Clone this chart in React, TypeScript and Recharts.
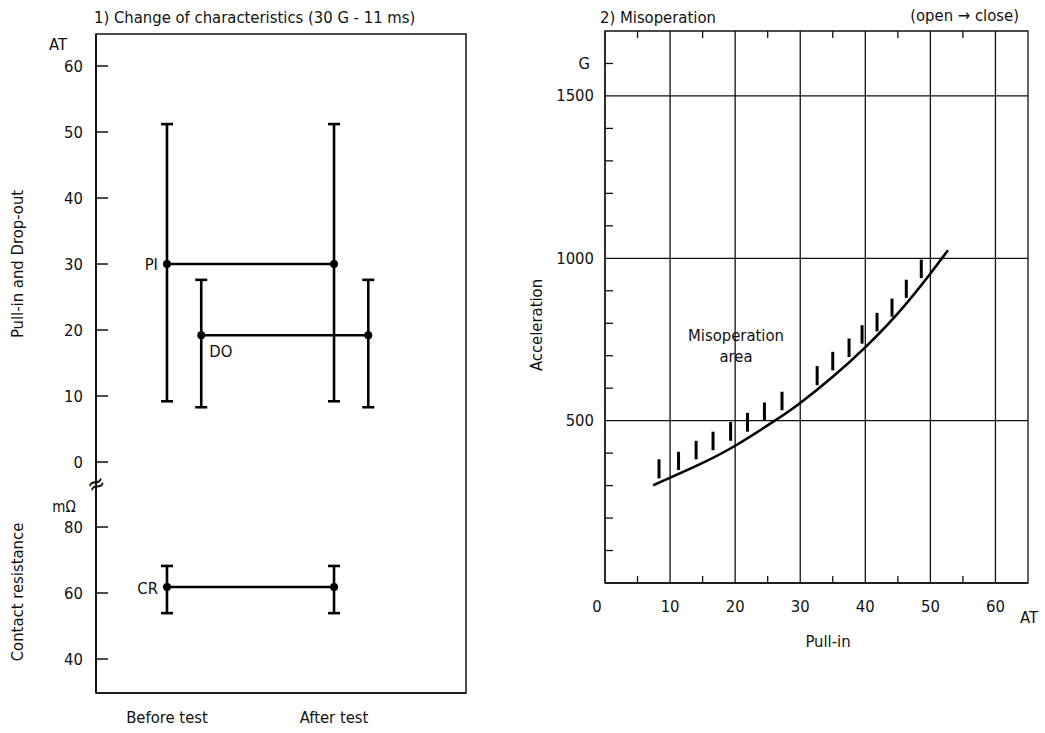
import React from 'react';
import {
  ComposedChart,
  Scatter,
  Line,
  XAxis,
  YAxis,
  ErrorBar,
  ReferenceLine,
  ReferenceArea,
} from 'recharts';

const FONT = '"Liberation Sans Narrow", "Arial Narrow", "DejaVu Sans Condensed", "Roboto Condensed", "Liberation Sans", sans-serif';
const FS = 16.5;

// ---------- Panel 1: change of characteristics ----------
const testStages = ['Before test', 'After test'];
const stagePos = [1, 3];
const piMean = [30, 30];
const piHigh = [51.2, 51.2];
const piLow = [9.2, 9.2];
const doMean = [19.2, 19.2];
const doHigh = [27.6, 27.6];
const doLow = [8.3, 8.3];
const crMean = [61.8, 61.8];
const crHigh = [68.2, 68.2];
const crLow = [53.9, 53.9];
const atTicks = [0, 10, 20, 30, 40, 50, 60];
const mohmTicks = [40, 60, 80];

// ---------- Panel 2: misoperation ----------
const pullInTicks = [0, 10, 20, 30, 40, 50, 60];
const pullInMinorTicks = [5, 15, 25, 35, 45, 55];
const accelMajorTicks = [500, 1000, 1500];
const accelMinorTicks = [100, 200, 300, 400, 600, 700, 800, 900, 1100, 1200, 1300, 1400, 1600];
const curvePullIn = [7.4, 14.6, 20.2, 25.8, 29.9, 35.0, 40.1, 45.2, 49.8, 52.7];
const curveAccel = [301, 366, 425, 496, 553, 635, 728, 835, 948, 1025];
const hatchPullIn = [8.3, 11.3, 14.0, 16.6, 19.3, 21.9, 24.5, 27.2, 32.6, 35.0, 37.5, 39.5, 41.8, 44.1, 46.3, 48.6];
const hatchLow = [322, 348, 381, 409, 438, 466, 499, 532, 609, 655, 696, 737, 775, 820, 878, 939];
const hatchHigh = [381, 404, 438, 466, 496, 524, 556, 589, 668, 712, 753, 794, 832, 876, 934, 996];

// ---------- axis domains / layout ----------
const AT_DOMAIN: [number, number] = [-35, 64.85];
const CR_DOMAIN: [number, number] = [29.7, 229.4];
const STAGE_DOMAIN: [number, number] = [0.15, 4.58];
const DO_SHIFT = 0.41;
const PULLIN_DOMAIN: [number, number] = [0, 65];
const ACCEL_DOMAIN: [number, number] = [0, 1700];
const RIGHT_PLOT_TOP = 31;

const crToAt = (m: number) =>
  AT_DOMAIN[0] + ((m - CR_DOMAIN[0]) * (AT_DOMAIN[1] - AT_DOMAIN[0])) / (CR_DOMAIN[1] - CR_DOMAIN[0]);

const leftTickLabels = new Map<number, string>();
atTicks.forEach((t) => leftTickLabels.set(t, String(t)));
mohmTicks.forEach((m) => leftTickLabels.set(crToAt(m), String(m)));
const leftTicks = Array.from(leftTickLabels.keys());

const makeTable = (pos: number[], mean: number[], low: number[], high: number[], tag: string, shift = 0) =>
  pos.map((p, i) => ({
    x: p + shift,
    y: mean[i],
    err: [mean[i] - low[i], high[i] - mean[i]],
    tag: i === 0 ? tag : '',
  }));

const piTable = makeTable(stagePos, piMean, piLow, piHigh, 'PI');
const doTable = makeTable(stagePos, doMean, doLow, doHigh, 'DO', DO_SHIFT);
const crTable = makeTable(stagePos, crMean, crLow, crHigh, 'CR');

const curveTable = curvePullIn.map((x, i) => ({ x, y: curveAccel[i] }));
const hatchTable = hatchPullIn.map((x, i) => {
  const mid = (hatchLow[i] + hatchHigh[i]) / 2;
  return { x, y: mid, err: [mid - hatchLow[i], hatchHigh[i] - mid] };
});

const dotShape = (dx: number, dy: number, anchor: 'start' | 'end') => (props: any) => {
  const { cx, cy, payload } = props;
  return (
    <g>
      <circle cx={cx} cy={cy} r={4} fill="#000" />
      {payload && payload.tag ? (
        <text x={cx + dx} y={cy + dy} textAnchor={anchor} dominantBaseline="central" fontSize={FS} fontFamily={FONT} fill="#111">
          {payload.tag}
        </text>
      ) : null}
    </g>
  );
};

const LeftYTick = (props: any) => {
  const { x, y, payload } = props;
  return (
    <g>
      <line x1={x} x2={x + 12} y1={y} y2={y} stroke="#111" strokeWidth={1.5} />
      <text x={x - 13} y={y} textAnchor="end" dominantBaseline="central" fontSize={FS} fontFamily={FONT} fill="#111">
        {leftTickLabels.get(payload.value)}
      </text>
    </g>
  );
};

const LeftXTick = (props: any) => {
  const { x, y, payload } = props;
  const idx = stagePos.indexOf(payload.value);
  return (
    <text x={x} y={y + 24} textAnchor="middle" dominantBaseline="central" fontSize={FS} fontFamily={FONT} fill="#111">
      {testStages[idx]}
    </text>
  );
};

const RightYTick = (props: any) => {
  const { x, y, payload } = props;
  const v = payload.value;
  const major = accelMajorTicks.includes(v);
  return (
    <g>
      {!major ? <line x1={x} x2={x + 8} y1={y} y2={y} stroke="#111" strokeWidth={1.3} /> : null}
      {major ? (
        <text x={x - 11} y={y} textAnchor="end" dominantBaseline="central" fontSize={FS} fontFamily={FONT} fill="#111">
          {v}
        </text>
      ) : null}
      {v === 1600 ? (
        <text x={x - 15} y={y} textAnchor="end" dominantBaseline="central" fontSize={FS} fontFamily={FONT} fill="#111">
          G
        </text>
      ) : null}
    </g>
  );
};

const RightXTick = (props: any) => {
  const { x, y, payload } = props;
  const v = payload.value;
  if (pullInMinorTicks.includes(v)) {
    return (
      <g>
        <line x1={x} x2={x} y1={y} y2={y - 7} stroke="#111" strokeWidth={1.3} />
        <line x1={x} x2={x} y1={RIGHT_PLOT_TOP} y2={RIGHT_PLOT_TOP + 7} stroke="#111" strokeWidth={1.3} />
      </g>
    );
  }
  return (
    <text x={x + (v === 0 ? -8 : 0)} y={y + 23} textAnchor="middle" dominantBaseline="central" fontSize={FS} fontFamily={FONT} fill="#111">
      {v}
    </text>
  );
};

const T = ({ x, y, children, size = FS, rotate = 0, anchor = 'middle' }: any) => {
  const tx = anchor === 'middle' ? '-50%' : anchor === 'end' ? '-100%' : '0';
  return (
    <div
      style={{
        position: 'absolute',
        left: x,
        top: y,
        transform: `translate(${tx}, -50%)${rotate ? ` rotate(${rotate}deg)` : ''}`,
        transformOrigin: '50% 50%',
        fontSize: size,
        lineHeight: 1,
        whiteSpace: 'nowrap',
        color: '#111',
        fontFamily: FONT,
      }}
    >
      {children}
    </div>
  );
};

export default function App() {
  return (
    <div style={{ position: 'absolute', left: 0, top: 0, width: 1045, height: 733, background: '#fff', fontFamily: FONT, overflow: 'hidden' }}>
      <div style={{ position: 'absolute', left: 0, top: 0 }}>
        <ComposedChart width={480} height={733} margin={{ top: 34, right: 14, bottom: 0, left: 0 }}>
          <XAxis
            xAxisId="x"
            type="number"
            dataKey="x"
            domain={STAGE_DOMAIN}
            allowDataOverflow
            ticks={stagePos}
            height={40}
            tickSize={0}
            tickMargin={0}
            tickLine={false}
            axisLine={{ stroke: '#111', strokeWidth: 1.5 }}
            tick={<LeftXTick />}
          />
          <YAxis
            yAxisId="at"
            type="number"
            domain={AT_DOMAIN}
            allowDataOverflow
            ticks={leftTicks}
            width={96}
            tickSize={0}
            tickMargin={0}
            tickLine={false}
            axisLine={{ stroke: '#111', strokeWidth: 1.8 }}
            tick={<LeftYTick />}
            interval={0}
          />
          <YAxis yAxisId="cr" type="number" domain={CR_DOMAIN} allowDataOverflow hide />
          <ReferenceArea
            xAxisId="x"
            yAxisId="at"
            x1={STAGE_DOMAIN[0]}
            x2={STAGE_DOMAIN[1]}
            y1={AT_DOMAIN[0]}
            y2={AT_DOMAIN[1]}
            fill="none"
            fillOpacity={0}
            stroke="#111"
            strokeWidth={1.5}
            ifOverflow="visible"
          />
          <Scatter xAxisId="x" yAxisId="at" data={piTable} dataKey="y" isAnimationActive={false} line={{ stroke: '#000', strokeWidth: 2.6 }} shape={dotShape(-9, 0, 'end')}>
            <ErrorBar dataKey="err" direction="y" width={6} strokeWidth={2.6} stroke="#000" />
          </Scatter>
          <Scatter xAxisId="x" yAxisId="at" data={doTable} dataKey="y" isAnimationActive={false} line={{ stroke: '#000', strokeWidth: 2.6 }} shape={dotShape(8, 16, 'start')}>
            <ErrorBar dataKey="err" direction="y" width={6} strokeWidth={2.6} stroke="#000" />
          </Scatter>
          <Scatter xAxisId="x" yAxisId="cr" data={crTable} dataKey="y" isAnimationActive={false} line={{ stroke: '#000', strokeWidth: 2.6 }} shape={dotShape(-9, 1, 'end')}>
            <ErrorBar dataKey="err" direction="y" width={6} strokeWidth={2.6} stroke="#000" />
          </Scatter>
        </ComposedChart>
      </div>

      <div style={{ position: 'absolute', left: 480, top: 0 }}>
        <ComposedChart width={565} height={733} margin={{ top: RIGHT_PLOT_TOP, right: 17, bottom: 110, left: 0 }}>
          <XAxis
            type="number"
            dataKey="x"
            domain={PULLIN_DOMAIN}
            allowDataOverflow
            ticks={[...pullInTicks, ...pullInMinorTicks].sort((a, b) => a - b)}
            interval={0}
            height={40}
            tickSize={0}
            tickMargin={0}
            tickLine={false}
            axisLine={{ stroke: '#111', strokeWidth: 1.3 }}
            tick={<RightXTick />}
          />
          <YAxis
            type="number"
            domain={ACCEL_DOMAIN}
            allowDataOverflow
            ticks={[...accelMajorTicks, ...accelMinorTicks].sort((a, b) => a - b)}
            interval={0}
            width={125}
            tickSize={0}
            tickMargin={0}
            tickLine={false}
            axisLine={{ stroke: '#111', strokeWidth: 1.3 }}
            tick={<RightYTick />}
          />
          <ReferenceArea
            x1={PULLIN_DOMAIN[0]}
            x2={PULLIN_DOMAIN[1]}
            y1={ACCEL_DOMAIN[0]}
            y2={ACCEL_DOMAIN[1]}
            fill="none"
            fillOpacity={0}
            stroke="#111"
            strokeWidth={1.3}
            ifOverflow="visible"
          />
          {pullInTicks.filter((t) => t > 0).map((t) => (
            <ReferenceLine key={'vx' + t} x={t} stroke="#111" strokeWidth={1.3} />
          ))}
          {accelMajorTicks.map((t) => (
            <ReferenceLine key={'hy' + t} y={t} stroke="#111" strokeWidth={1.3} />
          ))}
          <Line data={curveTable} dataKey="y" type="natural" stroke="#000" strokeWidth={2.6} dot={false} isAnimationActive={false} />
          <Scatter data={hatchTable} dataKey="y" isAnimationActive={false} shape={() => <g />}>
            <ErrorBar dataKey="err" direction="y" width={0} strokeWidth={3} stroke="#000" />
          </Scatter>
        </ComposedChart>
      </div>

      <T x={94} y={18} anchor="start">1) Change of characteristics (30 G - 11 ms)</T>
      <T x={58} y={45}>AT</T>
      <T x={64} y={507} size={15}>mΩ</T>
      <T x={96} y={484} size={24} rotate={-25}>≈</T>
      <T x={18} y={264} rotate={-90}>Pull-in and Drop-out</T>
      <T x={18} y={592} rotate={-90}>Contact resistance</T>

      <T x={600} y={18} anchor="start">2) Misoperation</T>
      <T x={1019} y={16} anchor="end">(open → close)</T>
      <T x={736} y={336}>Misoperation</T>
      <T x={736} y={357}>area</T>
      <T x={828} y={642}>Pull-in</T>
      <T x={1029} y={618}>AT</T>
      <T x={537} y={325} rotate={-90}>Acceleration</T>
    </div>
  );
}
